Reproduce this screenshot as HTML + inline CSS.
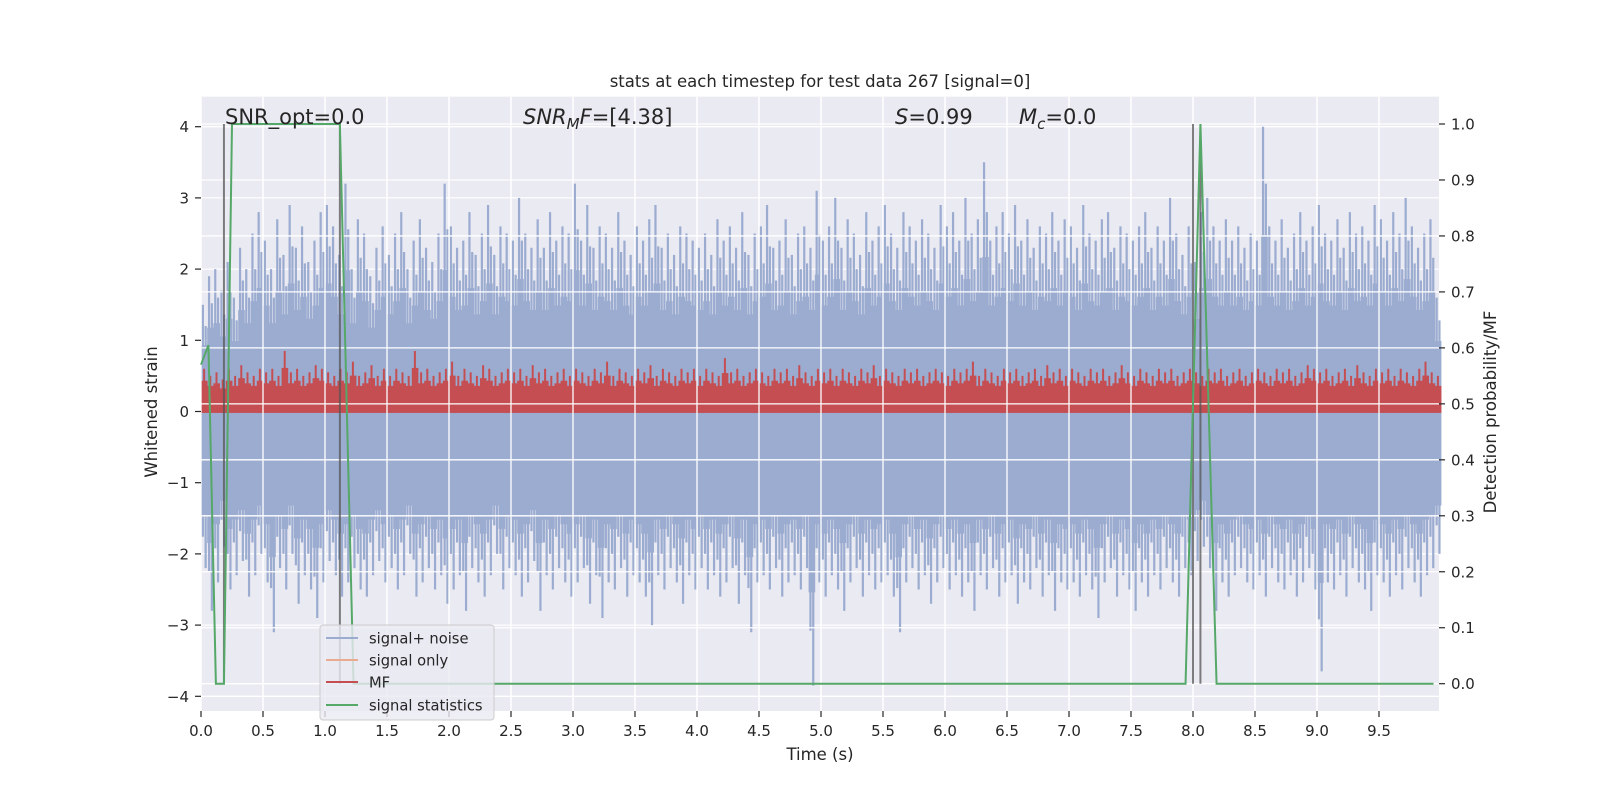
<!DOCTYPE html>
<html><head><meta charset="utf-8"><style>
html,body{margin:0;padding:0;background:#fff;}
svg{display:block;font-family:"DejaVu Sans","Liberation Sans",sans-serif;}
</style></head><body>
<svg id="chart" width="1600" height="800" viewBox="0 0 1600 800" xmlns="http://www.w3.org/2000/svg"></svg>
<script>
const xTicks=[0,0.5,1,1.5,2,2.5,3,3.5,4,4.5,5,5.5,6,6.5,7,7.5,8,8.5,9,9.5];
const xTickLabels=["0.0","0.5","1.0","1.5","2.0","2.5","3.0","3.5","4.0","4.5","5.0","5.5","6.0","6.5","7.0","7.5","8.0","8.5","9.0","9.5"];
const yLeftTicks=[-4,-3,-2,-1,0,1,2,3,4];
const yRightTicks=[0,0.1,0.2,0.3,0.4,0.5,0.6,0.7,0.8,0.9,1.0];
const binWidth=0.05;
const noiseHi=[1.5,1.9,2.0,1.7,2.1,1.6,2.3,2.0,2.5,2.8,
2.4,2.0,2.7,2.2,2.9,2.3,2.6,2.1,2.4,2.8,
2.9,2.6,2.2,3.2,2.0,2.7,2.5,1.9,2.3,2.6,
2.2,2.5,2.8,2.0,2.4,2.7,2.3,2.1,2.5,3.2,
2.6,2.3,2.4,2.8,2.2,2.5,2.9,2.2,2.6,2.5,
2.4,3.0,2.5,2.3,2.7,2.3,2.8,2.4,2.6,2.5,
3.2,2.4,2.9,2.3,2.6,2.5,2.3,2.8,2.4,2.2,
2.6,2.4,2.7,2.9,2.3,2.5,2.2,2.6,2.5,2.4,
2.3,2.5,2.2,2.7,2.4,2.6,2.3,2.8,2.2,2.5,
2.6,2.9,2.3,2.4,2.7,2.2,2.5,2.6,2.3,3.1,
2.4,2.6,3.0,2.3,2.7,2.5,2.2,2.8,2.4,2.6,
2.9,2.5,2.3,2.8,2.6,2.4,2.7,2.5,2.3,2.9,
2.6,2.8,2.4,3.0,2.5,2.7,3.5,2.4,2.6,2.8,
2.5,2.9,2.4,2.7,2.3,2.6,2.5,2.8,2.4,2.7,
2.6,2.3,2.9,2.5,2.4,2.7,2.8,2.3,2.6,2.5,
2.4,2.6,2.8,2.3,2.6,2.4,3.0,2.5,2.2,2.6,
2.1,2.8,3.0,2.6,2.4,2.7,2.4,2.6,2.3,2.5,
2.4,4.0,2.6,2.4,2.7,2.3,2.5,2.8,2.4,2.6,
2.9,2.5,2.4,2.7,2.3,2.8,2.5,2.6,2.4,2.9,
2.7,2.4,2.8,2.5,3.0,2.6,2.3,2.5,2.7,1.6];
const noiseLo=[-2.2,-2.8,-2.4,-1.9,-2.5,-2.3,-2.1,-2.6,-2.3,-2.0,
-2.4,-3.1,-2.2,-2.5,-2.0,-2.7,-2.3,-2.5,-2.9,-2.4,
-2.1,-2.3,-2.6,-2.4,-2.2,-2.5,-2.6,-2.3,-2.1,-2.4,
-2.2,-2.5,-2.3,-2.0,-2.6,-2.4,-2.2,-2.5,-2.3,-2.7,
-2.5,-2.3,-2.8,-2.2,-2.4,-2.6,-2.3,-2.0,-2.5,-2.2,
-2.3,-2.6,-2.4,-2.1,-2.8,-2.3,-2.5,-2.2,-2.4,-2.6,
-2.4,-2.2,-2.7,-2.3,-2.9,-2.4,-2.5,-2.2,-2.6,-2.3,
-2.4,-2.6,-3.0,-2.3,-2.5,-2.2,-2.4,-2.7,-2.3,-2.5,
-2.2,-2.5,-2.3,-2.6,-2.4,-2.2,-2.7,-2.3,-3.1,-2.4,
-2.3,-2.5,-2.2,-2.6,-2.4,-2.3,-2.5,-2.2,-3.85,-2.4,
-2.6,-2.3,-2.5,-2.8,-2.4,-2.2,-2.6,-2.3,-2.5,-2.4,
-2.3,-2.6,-3.1,-2.4,-2.2,-2.5,-2.3,-2.7,-2.4,-2.2,
-2.5,-2.3,-2.6,-2.4,-2.8,-2.3,-2.5,-2.2,-2.6,-2.4,
-2.3,-2.7,-2.4,-2.5,-2.2,-2.6,-2.3,-2.8,-2.4,-2.5,
-2.4,-2.6,-2.3,-2.5,-2.9,-2.4,-2.2,-2.6,-2.3,-2.5,
-2.8,-2.4,-2.6,-2.3,-2.5,-2.2,-2.4,-2.6,-2.2,-2.3,
-2.1,-1.9,-2.2,-2.8,-2.4,-2.6,-2.3,-2.2,-2.4,-2.5,
-2.3,-2.6,-2.2,-2.4,-2.5,-2.3,-2.6,-2.4,-2.2,-2.5,
-3.65,-2.4,-2.5,-2.3,-2.6,-2.2,-2.4,-2.5,-2.8,-2.3,
-2.4,-2.6,-2.3,-2.5,-2.2,-2.4,-2.6,-2.3,-2.2,-2.0];
const mfHi=[0.6,0.5,0.55,0.45,0.6,0.5,0.65,0.55,0.5,0.6,
0.55,0.6,0.5,0.85,0.55,0.6,0.5,0.55,0.65,0.6,
0.55,0.5,0.6,0.55,0.7,0.5,0.55,0.65,0.5,0.6,
0.5,0.6,0.55,0.5,0.85,0.55,0.6,0.5,0.55,0.6,
0.7,0.5,0.6,0.55,0.5,0.65,0.6,0.5,0.55,0.6,
0.55,0.6,0.5,0.65,0.55,0.6,0.5,0.55,0.6,0.5,
0.6,0.55,0.5,0.6,0.55,0.7,0.5,0.6,0.55,0.5,
0.6,0.55,0.65,0.5,0.6,0.55,0.5,0.6,0.55,0.6,
0.5,0.6,0.55,0.5,0.75,0.55,0.6,0.5,0.55,0.6,
0.55,0.5,0.6,0.55,0.6,0.5,0.65,0.55,0.5,0.6,
0.55,0.6,0.5,0.6,0.55,0.5,0.6,0.55,0.65,0.5,
0.6,0.55,0.5,0.6,0.55,0.6,0.5,0.55,0.6,0.55,
0.5,0.6,0.55,0.6,0.7,0.5,0.6,0.55,0.5,0.6,
0.55,0.6,0.5,0.55,0.6,0.5,0.65,0.55,0.6,0.5,
0.6,0.55,0.5,0.6,0.55,0.6,0.5,0.55,0.65,0.55,
0.5,0.6,0.55,0.5,0.6,0.55,0.6,0.5,0.55,0.6,
0.55,0.5,0.6,0.55,0.6,0.5,0.55,0.6,0.5,0.55,
0.6,0.55,0.5,0.6,0.55,0.6,0.5,0.55,0.65,0.6,
0.55,0.6,0.5,0.55,0.6,0.5,0.65,0.55,0.5,0.6,
0.55,0.6,0.5,0.6,0.55,0.5,0.6,0.7,0.55,0.5];
const statT=[0,0.06,0.12,0.185,0.25,1.12,1.23,7.94,8.06,8.19,9.94];
const statP=[0.57,0.605,0,0,1,1,0,0,1,0,0];
const markerT=[0.185,1.12,8.0,8.06];

const NS="http://www.w3.org/2000/svg";
const svg=document.getElementById('chart');
const L=201,R=1439,T=96.7,B=711;
function xs(t){return L+t*124;}
function yl(v){return 411.5-v*71.2;}
function yr(p){return 683.7-p*559.7;}
function el(tag,attrs,parent){const e=document.createElementNS(NS,tag);for(const k in attrs)e.setAttribute(k,attrs[k]);(parent||svg).appendChild(e);return e;}

const bg=el('rect',{x:L,y:T,width:R-L,height:B-T,fill:'#eaeaf2'});



function gridX(g){xTicks.forEach(t=>{el('line',{x1:xs(t),x2:xs(t),y1:T,y2:B,stroke:'#fff','stroke-width':1.3},g);});}
const g1=el('g',{});


gridX(g1);
yLeftTicks.forEach(v=>el('line',{x1:L,x2:R,y1:yl(v),y2:yl(v),stroke:'#fff','stroke-width':1.3},g1));

const gn=el('g',{});


const bw=binWidth*124;
noiseHi.forEach((h,i)=>{
  const t=i*binWidth, lo=noiseLo[i];
  el('rect',{x:xs(t),y:yl(h*0.62),width:bw+0.4,height:yl(lo*0.66)-yl(h*0.62),fill:'#9bacd0'},gn);
  el('line',{x1:xs(t)+bw*0.3,x2:xs(t)+bw*0.3,y1:yl(h),y2:yl(lo*0.8),stroke:'#9bacd0','stroke-width':2.2},gn);
  el('line',{x1:xs(t)+bw*0.75,x2:xs(t)+bw*0.75,y1:yl(h*0.8),y2:yl(lo),stroke:'#9bacd0','stroke-width':2.2},gn);
});
const gm=el('g',{});


mfHi.forEach((h,i)=>{
  const t=i*binWidth;
  el('rect',{x:xs(t),y:yl(h*0.72),width:bw+0.4,height:yl(-0.02)-yl(h*0.72),fill:'#c44e52'},gm);
  el('line',{x1:xs(t)+bw*0.5,x2:xs(t)+bw*0.5,y1:yl(h),y2:yl(0),stroke:'#c44e52','stroke-width':2},gm);
});

const g2=el('g',{});


gridX(g2);
yRightTicks.forEach(p=>el('line',{x1:L,x2:R,y1:yr(p),y2:yr(p),stroke:'#fff','stroke-width':1.3},g2));

markerT.forEach(t=>{
  const m=el('line',{x1:xs(t),x2:xs(t),y1:yr(0),y2:yr(1),stroke:'#555','stroke-width':2,'stroke-opacity':0.75});
  
  
});
const sp=el('polyline',{points:statT.map((t,i)=>xs(t)+','+yr(statP[i])).join(' '),fill:'none',stroke:'#55a868','stroke-width':2});



const ax=el('g',{fill:'#262626','font-size':'15px'});


xTicks.forEach((t,i)=>{
  el('line',{x1:xs(t),x2:xs(t),y1:B,y2:B+6,stroke:'#262626','stroke-width':1.2},ax);
  const tx=el('text',{x:xs(t),y:B+25,'text-anchor':'middle'},ax);tx.textContent=xTickLabels[i];
});
yLeftTicks.forEach(v=>{
  el('line',{x1:L-6,x2:L,y1:yl(v),y2:yl(v),stroke:'#262626','stroke-width':1.2},ax);
  const tx=el('text',{x:L-12,y:yl(v)+5.5,'text-anchor':'end'},ax);tx.textContent=(v<0?'\u2212'+(-v):String(v));
});
yRightTicks.forEach(p=>{
  el('line',{x1:R,x2:R+6,y1:yr(p),y2:yr(p),stroke:'#262626','stroke-width':1.2},ax);
  const tx=el('text',{x:R+12,y:yr(p)+5.5},ax);tx.textContent=p.toFixed(1);
});
</script>
<svg width="1600" height="800" style="position:absolute;left:0;top:0" font-family="DejaVu Sans, Liberation Sans, sans-serif" fill="#262626">
 <text x="820" y="87" text-anchor="middle" font-size="16.5">stats at each timestep for test data 267 [signal=0]</text>
 <text x="820" y="760" text-anchor="middle" font-size="16.5">Time (s)</text>
 <text transform="translate(157,412) rotate(-90)" text-anchor="middle" font-size="16.5">Whitened strain</text>
 <text transform="translate(1496,412) rotate(-90)" text-anchor="middle" font-size="16.5">Detection probability/MF</text>
 <text x="225" y="124" font-size="21">SNR_opt=0.0</text>
 <text x="523" y="124" font-size="21"><tspan font-style="italic">SNR</tspan><tspan font-style="italic" font-size="15" dy="5">M</tspan><tspan font-style="italic" dy="-5">F</tspan>=[4.38]</text>
 <text x="895" y="124" font-size="21"><tspan font-style="italic">S</tspan>=0.99</text>
 <text x="1019" y="124" font-size="21"><tspan font-style="italic">M</tspan><tspan font-style="italic" font-size="15" dy="5">c</tspan><tspan dy="-5">=0.0</tspan></text>
 <g>
  <rect x="320" y="625" width="174" height="95" rx="3" fill="#eaeaf2" fill-opacity="0.8" stroke="#cccccc"/>
  <g><line x1="326" x2="358" y1="638" y2="638" stroke="#9bacd0" stroke-width="2"/><text x="369" y="643.5" font-size="14.7">signal+ noise</text></g>
  <g><line x1="326" x2="358" y1="660" y2="660" stroke="#eaaa90" stroke-width="2"/><text x="369" y="665.5" font-size="14.7">signal only</text></g>
  <g><line x1="326" x2="358" y1="682" y2="682" stroke="#c44e52" stroke-width="2"/><text x="369" y="687.5" font-size="14.7">MF</text></g>
  <g><line x1="326" x2="358" y1="705" y2="705" stroke="#55a868" stroke-width="2"/><text x="369" y="710.5" font-size="14.7">signal statistics</text></g>
 </g>
</svg>
</body></html>
